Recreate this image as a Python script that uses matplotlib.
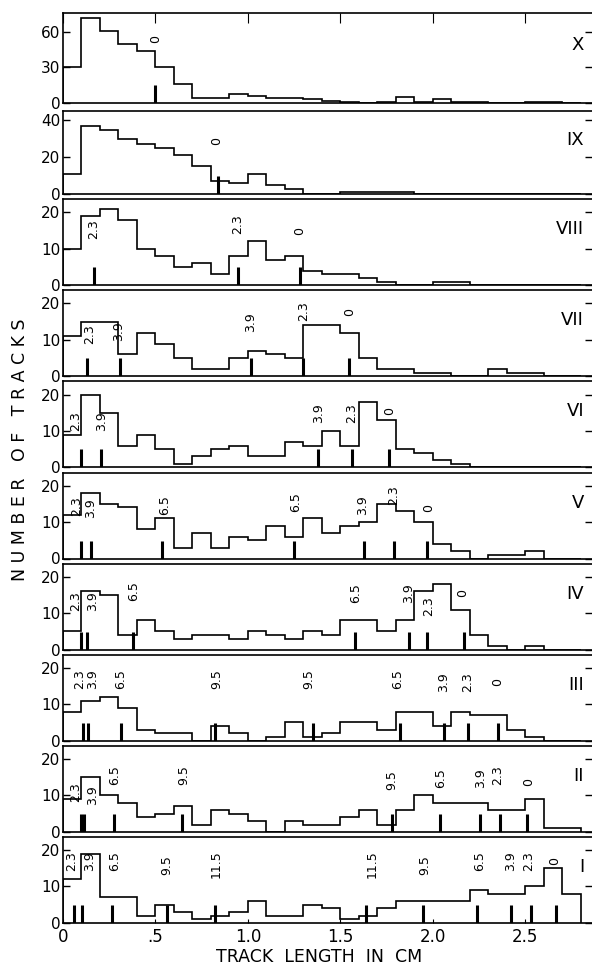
import matplotlib
matplotlib.use('Agg')
import matplotlib.pyplot as plt
import numpy as np

# bin edges, 0.1 cm wide
edges = np.round(np.arange(0, 2.81, 0.1), 2)

# track counts per 0.1 cm bin, one list per panel
n_X = [30, 72, 61, 50, 44, 30, 16, 4, 4, 8, 6, 4, 4, 3, 2, 1, 0, 1, 5, 1, 3, 1, 1, 0, 0, 1, 1, 0]
n_IX = [11, 37, 35, 30, 27, 25, 21, 15, 7, 6, 11, 5, 3, 0, 0, 1, 1, 1, 1, 0, 0, 0, 0, 0, 0, 0, 0, 0]
n_VIII = [10, 19, 21, 18, 10, 8, 5, 6, 3, 8, 12, 7, 8, 4, 3, 3, 2, 1, 0, 0, 1, 1, 0, 0, 0, 0, 0, 0]
n_VII = [11, 15, 15, 6, 12, 9, 5, 2, 2, 5, 7, 6, 5, 14, 14, 12, 5, 2, 2, 1, 1, 0, 0, 2, 1, 1, 0, 0]
n_VI = [9, 20, 15, 6, 9, 5, 1, 3, 5, 6, 3, 3, 7, 6, 10, 6, 18, 13, 5, 4, 2, 1, 0, 0, 0, 0, 0, 0]
n_V = [12, 18, 15, 14, 8, 11, 3, 7, 3, 6, 5, 9, 6, 11, 7, 9, 10, 15, 13, 10, 4, 2, 0, 1, 1, 2, 0, 0]
n_IV = [5, 16, 15, 4, 8, 5, 3, 4, 4, 3, 5, 4, 3, 5, 4, 8, 8, 5, 8, 16, 18, 11, 4, 1, 0, 1, 0, 0]
n_III = [8, 11, 12, 9, 3, 2, 2, 0, 4, 2, 0, 1, 5, 1, 2, 5, 5, 3, 8, 8, 4, 8, 7, 7, 3, 1, 0, 0]
n_II = [9, 15, 10, 8, 4, 5, 7, 2, 6, 5, 3, 0, 3, 2, 2, 4, 6, 2, 6, 10, 8, 8, 8, 6, 6, 9, 1, 1]
n_I = [12, 19, 7, 7, 2, 5, 3, 1, 2, 3, 6, 2, 2, 5, 4, 1, 2, 4, 6, 6, 6, 6, 9, 8, 8, 10, 15, 8]

# range marks (cm)
mk_X = [0.5]
mk_IX = [0.84]
mk_VIII = [0.165, 0.945, 1.28]
mk_VII = [0.13, 0.306, 1.016, 1.30, 1.547]
mk_VI = [0.10, 0.206, 1.38, 1.56, 1.765]
mk_V = [0.10, 0.15, 0.537, 1.25, 1.63, 1.79, 1.97]
mk_IV = [0.10, 0.13, 0.38, 1.58, 1.87, 1.97, 2.17]
mk_III = [0.108, 0.133, 0.316, 0.82, 1.35, 1.82, 2.06, 2.19, 2.35]
mk_II = [0.10, 0.113, 0.275, 0.645, 1.78, 2.04, 2.255, 2.36, 2.51]
mk_I = [0.06, 0.104, 0.265, 0.563, 0.82, 1.64, 1.945, 2.24, 2.42, 2.53, 2.665]

# mark labels (x cm, y count, text)
tg_X = [(0.5, 54, '0')]
tg_IX = [(0.83, 29, '0')]
tg_VIII = [(0.165, 15.3, '2.3'), (0.945, 16.7, '2.3'), (1.28, 14.8, '0')]
tg_VII = [(0.145, 11.5, '2.3'), (0.30, 12.4, '3.9'), (1.016, 15, '3.9'),
          (1.30, 18, '2.3'), (1.55, 17.6, '0')]
tg_VI = [(0.067, 12.7, '2.3'), (0.21, 12.7, '3.9'), (1.38, 15, '3.9'),
         (1.56, 15, '2.3'), (1.765, 15.5, '0')]
tg_V = [(0.073, 14.4, '2.3'), (0.15, 13.8, '3.9'), (0.547, 14.7, '6.5'), (1.26, 15.5, '6.5'),
        (1.62, 14.7, '3.9'), (1.79, 17.3, '2.3'), (1.975, 13.8, '0')]
tg_IV = [(0.067, 13.2, '2.3'), (0.16, 13.2, '3.9'), (0.38, 16, '6.5'), (1.58, 15.6, '6.5'),
         (1.87, 15.6, '3.9'), (1.975, 11.8, '2.3'), (2.16, 15.5, '0')]
tg_III = [(0.088, 17, '2.3'), (0.16, 17, '3.9'), (0.31, 17, '6.5'), (0.83, 17, '9.5'),
          (1.33, 17, '9.5'), (1.81, 17, '6.5'), (2.06, 16, '3.9'), (2.19, 16, '2.3'), (2.35, 16, '0')]
tg_II = [(0.067, 11, '2.3'), (0.16, 10.2, '3.9'), (0.28, 15.6, '6.5'), (0.655, 15.6, '9.5'),
         (1.78, 14.3, '9.5'), (2.04, 14.7, '6.5'), (2.255, 14.7, '3.9'), (2.35, 15.6, '2.3'),
         (2.515, 13.8, '0')]
tg_I = [(0.047, 17, '2.3'), (0.145, 17, '3.9'), (0.28, 17, '6.5'), (0.563, 16, '9.5'),
        (0.83, 16, '11.5'), (1.67, 16, '11.5'), (1.955, 16, '9.5'), (2.25, 17, '6.5'),
        (2.42, 17, '3.9'), (2.52, 17, '2.3'), (2.66, 17, '0')]

panels = [
    ('X', n_X, mk_X, tg_X, 76, [0, 30, 60]),
    ('IX', n_IX, mk_IX, tg_IX, 45, [0, 20, 40]),
    ('VIII', n_VIII, mk_VIII, tg_VIII, 23.6, [0, 10, 20]),
    ('VII', n_VII, mk_VII, tg_VII, 23.6, [0, 10, 20]),
    ('VI', n_VI, mk_VI, tg_VI, 23.6, [0, 10, 20]),
    ('V', n_V, mk_V, tg_V, 23.6, [0, 10, 20]),
    ('IV', n_IV, mk_IV, tg_IV, 23.6, [0, 10, 20]),
    ('III', n_III, mk_III, tg_III, 23.6, [0, 10, 20]),
    ('II', n_II, mk_II, tg_II, 23.6, [0, 10, 20]),
    ('I', n_I, mk_I, tg_I, 23.6, [0, 10, 20]),
]

W, H = 592, 967
left = 63
fig = plt.figure(figsize=(W / 100, H / 100), dpi=100)

for i, (name, n, marks, tags, ymax, yt) in enumerate(panels):
    base = 103 + i * 91.1
    h = 90 if i == 0 else (83 if i == 1 else 86)
    ax = fig.add_axes([left / W, 1 - base / H, (W - left) / W, h / H])
    ax.stairs(n, edges, baseline=0, color='black', lw=1.2)
    ax.vlines(marks, 0, 18 / h, transform=ax.get_xaxis_transform(), color='black', lw=2.2)
    for x, y, s in tags:
        ax.text(x, y, s, rotation=90, ha='center', va='center', fontsize=9)
    ax.text(0.985, 0.65, name, transform=ax.transAxes, ha='right', va='center', fontsize=13)
    ax.set_xlim(0, 2.86)
    ax.set_ylim(0, ymax)
    ax.set_yticks(yt)
    ax.tick_params(axis='y', direction='in', length=5, width=1, labelsize=11, right=True, pad=2)
    ax.spines['right'].set_visible(False)
    for s in ['left', 'top', 'bottom']:
        ax.spines[s].set_linewidth(1.2)
    ax.set_xticks([0, 0.5, 1.0, 1.5, 2.0, 2.5])
    if i == 0:
        ax.tick_params(axis='x', direction='in', top=True, bottom=False, length=7, labelbottom=False)
    elif i == len(panels) - 1:
        ax.set_xticklabels(['0', '.5', '1.0', '1.5', '2.0', '2.5'])
        ax.tick_params(axis='x', direction='in', length=3, labelsize=12, pad=4)
    else:
        ax.tick_params(axis='x', length=0, labelbottom=False)

fig.text(20 / W, 1 - 450 / H, 'N U M B E R   O F   T R A C K S', rotation=90, fontsize=12.5,
         ha='center', va='center')
fig.text(319 / W, 1 - 957 / H, 'TRACK  LENGTH  IN  CM', fontsize=12.5, ha='center', va='center')

fig.savefig('out.png', dpi=100)
